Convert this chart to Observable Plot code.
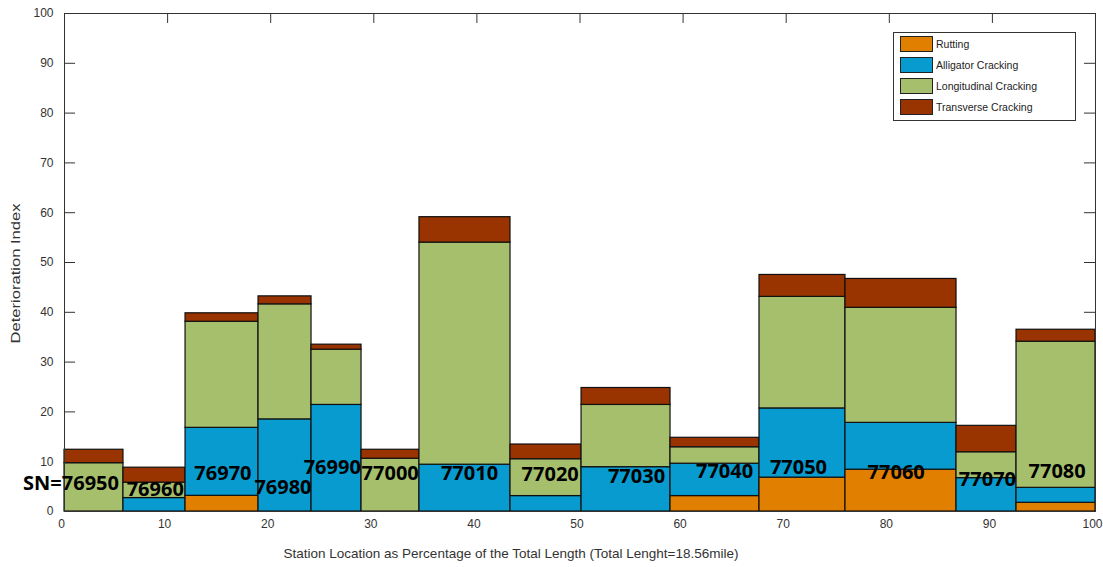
<!DOCTYPE html>
<html><head><meta charset="utf-8">
<script src="https://cdn.jsdelivr.net/npm/d3@7"></script>
<script src="https://cdn.jsdelivr.net/npm/@observablehq/plot@0.6"></script>
<style>
body{margin:0;background:#fff;}
#wrap{position:relative;width:1103px;height:567px;}
#legend{position:absolute;left:893px;top:32px;width:181px;height:87px;border:1px solid #333;background:#fff;font:10.5px "Liberation Sans",Arial,sans-serif;color:#222;}
.row{position:absolute;left:6px;height:16px;display:flex;align-items:center;white-space:nowrap;}
.sw{width:33px;height:16px;border:1px solid #222;margin-right:3px;box-sizing:border-box;}
</style></head><body><div id="wrap"></div>
<script>
// Station numbers (labels) and bar edges (percent of total length)
const stations = ["SN=76950","76960","76970","76980","76990","77000","77010","77020","77030","77040","77050","77060","77070","77080"];
const startPct = [0, 5.72, 11.74, 18.82, 23.96, 28.81, 34.43, 43.26, 50.15, 58.78, 67.41, 75.75, 86.52, 92.34];
const endPct   = [5.72, 11.74, 18.82, 23.96, 28.81, 34.43, 43.26, 50.15, 58.78, 67.41, 75.75, 86.52, 92.34, 100];
// Deterioration index components
const rutting      = [0,   0,   3.15, 0,    0,    0,   0,    0,   0,    3.1, 6.8,  8.4,  0,   1.75];
const alligator    = [0,   2.7, 13.65,18.5, 21.4, 0,   9.4,  3.1, 8.9,  6.5, 13.9, 9.4,  6.7, 3.0];
const longitudinal = [9.7, 3.1, 21.3, 23.1, 11.1, 10.6,44.6, 7.4, 12.5, 3.3, 22.4, 23.1, 5.2, 29.35];
const transverse   = [2.7, 3.0, 1.7,  1.6,  1.0,  1.8, 5.1,  2.95,3.4,  1.9, 4.4,  5.8,  5.3, 2.4];
// Station label anchor points (data units)
const labelX = [0.63, 8.80, 15.37, 21.19, 25.97, 31.59, 39.28, 47.11, 55.48, 64.02, 71.19, 80.67, 89.52, 96.28];
const labelY = [5.56, 4.42, 7.69, 4.76, 8.90, 7.57, 7.69, 7.43, 7.03, 8.09, 8.90, 7.89, 6.37, 8.03];

const seriesNames = ["Rutting","Alligator Cracking","Longitudinal Cracking","Transverse Cracking"];
const seriesColors = ["#E07F00","#079BCF","#A6BF6D","#993300"];
const seriesValues = [rutting, alligator, longitudinal, transverse];
const xTicks = d3.range(0, 101, 10);
const yTicks = d3.range(0, 101, 10);
const xTitle = "Station Location as Percentage of the Total Length (Total Lenght=18.56mile)";
const yTitle = "Deterioration Index";

// Build stacked segments
const segs = [];
stations.forEach((s, i) => {
  let base = 0;
  seriesValues.forEach((vals, k) => {
    const v = vals[i];
    if (v > 0) segs.push({x1: startPct[i], x2: endPct[i], y1: base, y2: base + v, series: seriesNames[k]});
    base += v;
  });
});
const labels = stations.map((s, i) => ({text: s, x: labelX[i], y: labelY[i]}));

const chart = Plot.plot({
  width: 1103, height: 567,
  marginLeft: 64, marginRight: 8, marginTop: 13, marginBottom: 56,
  style: {fontFamily: "'Liberation Sans', Arial, sans-serif", fontSize: "12px", background: "#fff"},
  x: {domain: [0, 100]},
  y: {domain: [0, 100]},
  color: {domain: seriesNames, range: seriesColors},
  marks: [
    Plot.ruleY(yTicks, {y: d => d, x1: 0, x2: 1.07, stroke: "#333"}),
    Plot.ruleY(yTicks, {y: d => d, x1: 98.93, x2: 100, stroke: "#333"}),
    Plot.ruleX(xTicks, {x: d => d, y1: 100, y2: 98, stroke: "#333"}),
    Plot.rect(segs, {x1: "x1", x2: "x2", y1: "y1", y2: "y2", fill: "series", stroke: "#111", strokeWidth: 1.2}),
    Plot.frame({stroke: "#333"}),
    Plot.axisX({ticks: xTicks, tickSize: 0, tickPadding: 8, dx: -3, label: null, color: "#333", fontSize: 12}),
    Plot.axisY({ticks: yTicks, tickSize: 0, tickPadding: 11, label: null, color: "#333", fontSize: 12}),
    Plot.text(labels, {x: "x", y: "y", text: "text", fontFamily: "'Open Sans', sans-serif", fontWeight: "bold", fontSize: 20, fill: "#000"}),
    Plot.text([xTitle], {frameAnchor: "bottom", textAnchor: "middle", lineAnchor: "middle", dy: 42, dx: -69, fontSize: 13.5, fill: "#333"}),
    Plot.text([yTitle], {frameAnchor: "left", textAnchor: "middle", lineAnchor: "middle", rotate: -90, dx: -49, dy: 11, fontSize: 12.5, fill: "#333", className: "ytitle"})
  ]
});
const wrap = document.getElementById("wrap");
wrap.appendChild(chart);
// stretch the y title like the reference
chart.querySelectorAll("text").forEach(t => {
  if (t.textContent === yTitle) { t.setAttribute("textLength", 140); t.setAttribute("lengthAdjust", "spacingAndGlyphs"); }
});

const legend = document.createElement("div");
legend.id = "legend";
const tops = [3, 24, 45, 66];
seriesNames.forEach((n, k) => {
  const row = document.createElement("div");
  row.className = "row";
  row.style.top = tops[k] + "px";
  const sw = document.createElement("div");
  sw.className = "sw";
  sw.style.background = seriesColors[k];
  const t = document.createElement("span");
  t.textContent = n;
  row.appendChild(sw); row.appendChild(t);
  legend.appendChild(row);
});
wrap.appendChild(legend);
</script>
</body></html>
